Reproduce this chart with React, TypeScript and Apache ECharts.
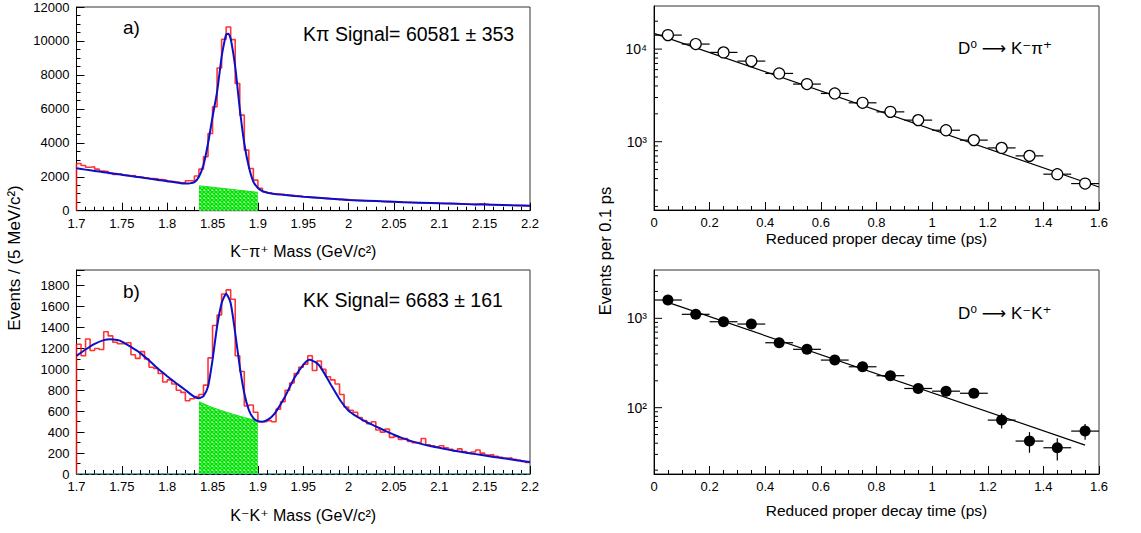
import React, { useEffect, useRef } from 'react';
import * as echarts from 'echarts';

const FONT = '"Liberation Sans", "DejaVu Sans", Arial, sans-serif';

// ---------- mass histograms (5 MeV bins from 1.70 to 2.20 GeV) ----------
const MASS_MIN = 1.7;
const MASS_BIN = 0.005;

const kpiCounts = [
  2780, 2660, 2560, 2590, 2450, 2330, 2300, 2200, 2130, 2170,
  2100, 2060, 2070, 2000, 1960, 1940, 1890, 1880, 1830, 1790,
  1730, 1700, 1660, 1640, 1760, 1770, 2040, 2450, 3180, 4550,
  6120, 8410, 10100, 10820, 10080, 7490, 5630, 3570, 2490, 1800,
  1320, 1120, 1050, 1000, 985, 950, 920, 900, 870, 840,
  820, 800, 780, 760, 740, 720, 705, 690, 670, 650,
  625, 615, 600, 585, 575, 570, 555, 545, 535, 525,
  510, 505, 495, 480, 470, 460, 455, 450, 445, 440,
  430, 425, 420, 410, 400, 390, 380, 375, 400, 395,
  360, 350, 340, 330, 325, 318, 312, 305, 300, 295,
];

const kkCounts = [
  1240, 1130, 1290, 1180, 1200, 1190, 1360, 1320, 1260, 1245,
  1245, 1255, 1140, 1105, 1170, 1100, 1020, 1010, 960, 880,
  900, 860, 800, 780, 700, 720, 740, 760, 850, 1110,
  1420, 1520, 1720, 1760, 1670, 1130, 980, 650, 660, 590,
  500, 500, 510, 500, 620, 690, 800, 870, 960, 1020,
  1050, 1130, 990, 1080, 1000, 930, 900, 860, 760, 640,
  610, 590, 540, 510, 480, 500, 420, 400, 430, 350,
  360, 330, 340, 310, 300, 300, 340, 280, 270, 260,
  270, 250, 235, 220, 240, 215, 200, 210, 230, 200,
  180, 185, 170, 160, 150, 155, 140, 130, 120, 110,
];

const kpiFit = [
  [1.700, 2494], [1.710, 2420], [1.720, 2345], [1.730, 2270], [1.740, 2195],
  [1.750, 2120], [1.760, 2040], [1.770, 1965], [1.780, 1890], [1.790, 1815],
  [1.800, 1740], [1.810, 1665], [1.820, 1595], [1.825, 1610], [1.830, 1680],
  [1.835, 2000], [1.840, 2690], [1.845, 3960], [1.850, 5530], [1.855, 7000],
  [1.860, 9060], [1.8625, 9800], [1.865, 10380], [1.8675, 10420], [1.870, 10130],
  [1.875, 8470], [1.880, 6020], [1.885, 3960], [1.890, 2590], [1.895, 1706],
  [1.900, 1340], [1.905, 1150], [1.910, 1065], [1.915, 1010], [1.920, 975],
  [1.930, 920], [1.940, 870], [1.950, 824], [1.960, 782], [1.970, 742],
  [1.980, 703], [1.990, 665], [2.000, 629], [2.020, 585], [2.040, 545],
  [2.060, 505], [2.080, 470], [2.100, 435], [2.120, 403], [2.140, 372],
  [2.160, 345], [2.180, 318], [2.200, 294],
];

const kkFit = [
  [1.700, 1129], [1.710, 1190], [1.720, 1244], [1.730, 1280], [1.737, 1289],
  [1.745, 1280], [1.750, 1266], [1.760, 1215], [1.770, 1158], [1.780, 1085],
  [1.790, 1005], [1.800, 935], [1.810, 868], [1.820, 803], [1.825, 768],
  [1.830, 738], [1.835, 724], [1.840, 745], [1.845, 836],
  [1.850, 1091], [1.855, 1410], [1.860, 1633], [1.865, 1723], [1.870, 1633],
  [1.875, 1346], [1.880, 1027], [1.885, 772], [1.890, 612], [1.895, 533],
  [1.900, 505], [1.905, 500], [1.910, 515], [1.915, 545], [1.920, 596],
  [1.930, 740], [1.940, 916], [1.950, 1043], [1.957, 1091], [1.965, 1060],
  [1.970, 1010], [1.980, 860], [1.990, 715], [2.000, 605], [2.010, 545],
  [2.020, 495], [2.030, 455], [2.040, 415], [2.050, 375], [2.060, 340],
  [2.070, 312], [2.080, 288], [2.090, 268], [2.100, 250], [2.110, 233],
  [2.120, 218], [2.130, 204], [2.140, 190], [2.150, 176], [2.160, 163],
  [2.170, 151], [2.180, 139], [2.190, 126], [2.200, 114],
];

const kpiBkgFill = [[1.835, 1470], [1.9, 1082]];
const kkBkgFill = [[1.835, 692], [1.85, 635], [1.8675, 585], [1.885, 540], [1.9, 507]];
const kkZeroLine = [[1.7, 0], [2.2, 0]];

// ---------- proper time distributions ----------
const timeBins = [0.05, 0.15, 0.25, 0.35, 0.45, 0.55, 0.65, 0.75, 0.85, 0.95, 1.05, 1.15, 1.25, 1.35, 1.45, 1.55];
const TIME_HALF_BIN = 0.05;
const kpiTimeCounts = [14160, 11330, 9210, 7420, 5460, 4190, 3320, 2630, 2100, 1710, 1330, 1040, 857, 703, 446, 353];
const kpiTimeErr = [120, 106, 96, 86, 74, 65, 58, 51, 46, 41, 36, 32, 29, 27, 21, 19];
const kkTimeCounts = [1603, 1109, 916, 863, 533, 450, 341, 287, 228, 164, 153, 145, 72.6, 42.3, 35.6, 54.7];
const kkTimeErr = [40, 33, 30, 29, 23, 21, 18, 17, 15, 13, 13, 17, 14, 11, 10, 11];
const kpiTimeFit = [[0, 14800], [1.6, 324]];
const kkTimeFit = [[0.05, 1510], [1.55, 38.1]];

// log-axis ticks
const cMajorTicks = [1000, 10000];
const cMajorLabels = ['10³', '10⁴'];
const cMinorTicks = [200, 300, 400, 500, 600, 700, 800, 900, 2000, 3000, 4000, 5000, 6000, 7000, 8000, 9000, 20000];
const dMajorTicks = [100, 1000];
const dMajorLabels = ['10²', '10³'];
const dMinorTicks = [20, 30, 40, 50, 60, 70, 80, 90, 200, 300, 400, 500, 600, 700, 800, 900, 2000, 3000];

const hatch =
  'data:image/svg+xml;utf8,' +
  encodeURIComponent(
    "<svg xmlns='http://www.w3.org/2000/svg' width='4' height='4'><rect width='4' height='4' fill='#b0ffb0'/><path d='M0 0L4 4M4 0L0 4' stroke='#00dd00' stroke-width='1.5'/></svg>"
  );

function histData(counts: number[]) {
  const d: number[][] = [[MASS_MIN, 0]];
  counts.forEach((c, i) => d.push([MASS_MIN + i * MASS_BIN, c]));
  d.push([MASS_MIN + counts.length * MASS_BIN, counts[counts.length - 1]]);
  return d;
}

const massXAxis = (gridIndex: number, name: string) => ({
  type: 'value',
  gridIndex,
  min: 1.7,
  max: 2.2,
  interval: 0.05,
  name,
  nameLocation: 'middle',
  nameGap: 33,
  nameTextStyle: { fontFamily: FONT, fontSize: 16, color: '#000' },
  axisLine: { show: true, lineStyle: { color: '#000', width: 1 } },
  axisTick: { show: true, inside: true, length: 8, lineStyle: { color: '#000' } },
  minorTick: { show: true, splitNumber: 5, length: 4, lineStyle: { color: '#000' } },
  axisLabel: {
    fontFamily: FONT,
    fontSize: 13,
    color: '#000',
    margin: 6,
    formatter: (v: number) => String(Number(v.toFixed(2))),
  },
  splitLine: { show: false },
  minorSplitLine: { show: false },
});

const timeXAxis = (gridIndex: number, nameGap: number) => ({
  type: 'value',
  gridIndex,
  min: 0,
  max: 1.6,
  interval: 0.2,
  name: 'Reduced proper decay time (ps)',
  nameLocation: 'middle',
  nameGap,
  nameTextStyle: { fontFamily: FONT, fontSize: 15.5, color: '#000' },
  axisLine: { show: true, lineStyle: { color: '#000', width: 1 } },
  axisTick: { show: true, inside: true, length: 8, lineStyle: { color: '#000' } },
  minorTick: { show: true, splitNumber: 4, length: 4, lineStyle: { color: '#000' } },
  axisLabel: {
    fontFamily: FONT,
    fontSize: 13,
    color: '#000',
    margin: 6,
    formatter: (v: number) => String(Number(v.toFixed(1))),
  },
  splitLine: { show: false },
});

const linYAxis = (gridIndex: number, max: number, interval: number, minorSplit: number) => ({
  type: 'value',
  gridIndex,
  min: 0,
  max,
  interval,
  axisLine: { show: true, lineStyle: { color: '#000', width: 1 } },
  axisTick: { show: true, inside: true, length: 8, lineStyle: { color: '#000' } },
  minorTick: { show: true, splitNumber: minorSplit, length: 4, lineStyle: { color: '#000' } },
  axisLabel: {
    fontFamily: FONT,
    fontSize: 13,
    color: '#000',
    margin: 7,
    showMaxLabel: max % interval === 0,
    formatter: (v: number) => String(Math.round(v)),
  },
  splitLine: { show: false },
});

const logYAxis = (gridIndex: number, min: number, max: number) => ({
  type: 'log',
  gridIndex,
  logBase: 10,
  min,
  max,
  axisLine: { show: true, lineStyle: { color: '#000', width: 1 } },
  axisTick: { show: false },
  axisLabel: { show: false },
  splitLine: { show: false },
});

function logTickSeries(xAxisIndex: number, xMin: number, major: number[], labels: string[], minor: number[]) {
  const data: number[][] = [];
  major.forEach((v, i) => data.push([xMin, v, 1, i]));
  minor.forEach((v) => data.push([xMin, v, 0, -1]));
  return {
    type: 'custom',
    xAxisIndex,
    yAxisIndex: xAxisIndex,
    clip: false,
    silent: true,
    encode: { x: 0, y: 1 },
    data,
    z: 5,
    renderItem: (params: any, api: any) => {
      const v = api.value(1);
      const isMajor = api.value(2) === 1;
      const idx = api.value(3);
      const p = api.coord([xMin, v]);
      const len = isMajor ? 8 : 4;
      const children: any[] = [
        {
          type: 'line',
          shape: { x1: p[0], y1: p[1], x2: p[0] + len, y2: p[1] },
          style: { stroke: '#000', lineWidth: 1 },
        },
      ];
      if (isMajor) {
        children.push({
          type: 'text',
          x: p[0] - 7,
          y: p[1],
          style: {
            text: labels[idx],
            fill: '#000',
            fontSize: 14,
            fontFamily: FONT,
            align: 'right',
            verticalAlign: 'middle',
            textAlign: 'right',
            textVerticalAlign: 'middle',
          },
        });
      }
      return { type: 'group', children };
    },
  };
}

function errorBarSeries(axisIndex: number, counts: number[], errs: number[]) {
  return {
    type: 'custom',
    xAxisIndex: axisIndex,
    yAxisIndex: axisIndex,
    silent: true,
    encode: { x: 0, y: 1 },
    data: timeBins.map((t, i) => [t, counts[i], errs[i]]),
    z: 3,
    renderItem: (params: any, api: any) => {
      const x = api.value(0);
      const y = api.value(1);
      const e = api.value(2);
      const l = api.coord([x - TIME_HALF_BIN, y]);
      const r = api.coord([x + TIME_HALF_BIN, y]);
      const t = api.coord([x, y + e]);
      const b = api.coord([x, y - e]);
      return {
        type: 'group',
        children: [
          { type: 'line', shape: { x1: l[0], y1: l[1], x2: r[0], y2: r[1] }, style: { stroke: '#000', lineWidth: 1.2 } },
          { type: 'line', shape: { x1: t[0], y1: t[1], x2: b[0], y2: b[1] }, style: { stroke: '#000', lineWidth: 1.2 } },
        ],
      };
    },
  };
}

const greenArea = (axisIndex: number, data: number[][]) => ({
  type: 'line',
  xAxisIndex: axisIndex,
  yAxisIndex: axisIndex,
  data,
  symbol: 'none',
  smooth: 0.3,
  lineStyle: { color: '#22e022', width: 1 },
  areaStyle: {
    color: { image: hatch, repeat: 'repeat', imageWidth: 4, imageHeight: 4 },
    opacity: 1,
  },
  z: 1,
  silent: true,
});

const histSeries = (axisIndex: number, counts: number[]) => ({
  type: 'line',
  xAxisIndex: axisIndex,
  yAxisIndex: axisIndex,
  data: histData(counts),
  step: 'end',
  symbol: 'none',
  lineStyle: { color: '#ff1010', width: 1.6, opacity: 0.85 },
  z: 2,
  silent: true,
});

const fitSeries = (axisIndex: number, data: number[][]) => ({
  type: 'line',
  xAxisIndex: axisIndex,
  yAxisIndex: axisIndex,
  data,
  symbol: 'none',
  smooth: 0.2,
  lineStyle: { color: '#0a10c8', width: 2 },
  z: 3,
  silent: true,
});

const timeFitSeries = (axisIndex: number, data: number[][]) => ({
  type: 'line',
  xAxisIndex: axisIndex,
  yAxisIndex: axisIndex,
  data,
  symbol: 'none',
  lineStyle: { color: '#000', width: 1.2 },
  z: 2,
  silent: true,
});

const gridBase = { show: true, borderColor: '#333', borderWidth: 1, backgroundColor: 'transparent', containLabel: false, outerBoundsMode: 'none' };

const textStyle = (text: string, size: number, extra: any = {}) => ({
  text,
  fill: '#000',
  fontSize: size,
  fontFamily: FONT,
  ...extra,
});

export default function App() {
  const ref = useRef<HTMLDivElement>(null);

  useEffect(() => {
    if (!ref.current) return;
    const chart = echarts.init(ref.current, undefined, { renderer: 'svg' });

    const option: any = {
      animation: false,
      backgroundColor: '#ffffff',
      grid: [
        { ...gridBase, left: 76.5, top: 7, width: 453.5, height: 203.7 },
        { ...gridBase, left: 76.5, top: 270, width: 453.5, height: 204 },
        { ...gridBase, left: 654, top: 6, width: 445, height: 204 },
        { ...gridBase, left: 654, top: 270, width: 445, height: 204 },
      ],
      xAxis: [
        massXAxis(0, 'K⁻π⁺ Mass (GeV/c²)'),
        massXAxis(1, 'K⁻K⁺ Mass (GeV/c²)'),
        timeXAxis(2, 20),
        timeXAxis(3, 28),
      ],
      yAxis: [
        linYAxis(0, 12000, 2000, 4),
        linYAxis(1, 1950, 200, 2),
        logYAxis(2, 183, 29200),
        logYAxis(3, 18.1, 3475),
      ],
      series: [
        greenArea(0, kpiBkgFill),
        histSeries(0, kpiCounts),
        fitSeries(0, kpiFit),

        greenArea(1, kkBkgFill),
        {
          type: 'line',
          xAxisIndex: 1,
          yAxisIndex: 1,
          data: kkZeroLine,
          symbol: 'none',
          lineStyle: { color: '#30b8b8', width: 1.5, type: [3, 3] },
          z: 4,
          silent: true,
        },
        histSeries(1, kkCounts),
        fitSeries(1, kkFit),

        timeFitSeries(2, kpiTimeFit),
        errorBarSeries(2, kpiTimeCounts, kpiTimeErr),
        {
          type: 'scatter',
          xAxisIndex: 2,
          yAxisIndex: 2,
          data: timeBins.map((t, i) => [t, kpiTimeCounts[i]]),
          symbol: 'circle',
          symbolSize: 11,
          itemStyle: { color: '#ffffff', borderColor: '#000', borderWidth: 1.2, opacity: 1 },
          z: 4,
          silent: true,
        },
        logTickSeries(2, 0, cMajorTicks, cMajorLabels, cMinorTicks),

        timeFitSeries(3, kkTimeFit),
        errorBarSeries(3, kkTimeCounts, kkTimeErr),
        {
          type: 'scatter',
          xAxisIndex: 3,
          yAxisIndex: 3,
          data: timeBins.map((t, i) => [t, kkTimeCounts[i]]),
          symbol: 'circle',
          symbolSize: 11,
          itemStyle: { color: '#000', borderColor: '#000', borderWidth: 0, opacity: 1 },
          z: 4,
          silent: true,
        },
        logTickSeries(3, 0, dMajorTicks, dMajorLabels, dMinorTicks),
      ],
      graphic: [
        { type: 'text', left: 123, top: 18, style: textStyle('a)', 19) },
        { type: 'text', left: 303, top: 24, style: textStyle('Kπ Signal= 60581 ± 353', 19.5) },
        { type: 'text', left: 123, top: 282, style: textStyle('b)', 19) },
        { type: 'text', left: 303, top: 290, style: textStyle('KK Signal= 6683 ± 161', 19.5) },
        { type: 'text', left: 958, top: 40, style: textStyle('D⁰ ⟶ K⁻π⁺', 17) },
        { type: 'text', left: 958, top: 305, style: textStyle('D⁰ ⟶ K⁻K⁺', 17) },
        {
          type: 'text',
          x: 14,
          y: 258,
          rotation: Math.PI / 2,
          style: textStyle('Events / (5 MeV/c²)', 17, {
            align: 'center',
            verticalAlign: 'middle',
            textAlign: 'center',
            textVerticalAlign: 'middle',
          }),
        },
        {
          type: 'text',
          x: 605,
          y: 251,
          rotation: Math.PI / 2,
          style: textStyle('Events per 0.1 ps', 16.5, {
            align: 'center',
            verticalAlign: 'middle',
            textAlign: 'center',
            textVerticalAlign: 'middle',
          }),
        },
      ],
    };

    chart.setOption(option);
    return () => chart.dispose();
  }, []);

  return (
    <div
      ref={ref}
      style={{ position: 'fixed', left: 0, top: 0, width: 1141, height: 533, background: '#fff' }}
    />
  );
}
